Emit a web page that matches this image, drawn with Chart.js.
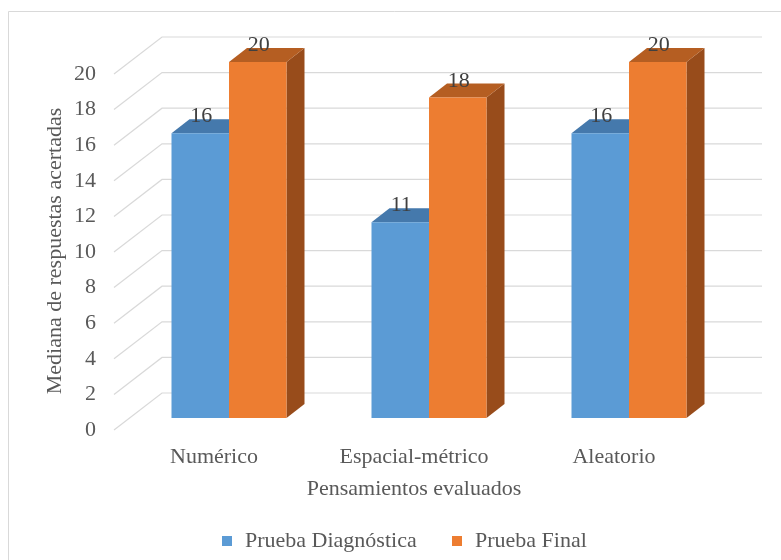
<!DOCTYPE html>
<html>
<head>
<meta charset="utf-8">
<script src="https://cdn.jsdelivr.net/npm/chart.js@4"></script>
<style>
  body { margin: 0; background: #fff; }
  canvas { display: block; }
</style>
</head>
<body>
<canvas id="chart" width="781" height="560"></canvas>
<script>
// Data
const categories = ['Numérico', 'Espacial-métrico', 'Aleatorio'];
const pruebaDiagnostica = [16, 11, 16];
const pruebaFinal = [20, 18, 20];
const yTicks = [0, 2, 4, 6, 8, 10, 12, 14, 16, 18, 20];
const seriesNames = ['Prueba Diagnóstica', 'Prueba Final'];

const FONT = '22px "Liberation Serif", "Times New Roman", serif';
const frontColors = ['#5B9BD5', '#ED7D31'];
const topColors = ['#4579AC', '#B55E22'];
const sideColors = ['#3A6791', '#984C1B'];

// 3D offsets relative to the bar front plane
const front = { dx: -15, dy: 12 };
const back = { dx: 33, dy: -25 };
const depth = { dx: 18, dy: -14 };

const threeD = {
    id: 'threeD',
    beforeDraw(chart) {
        const ctx = chart.ctx;
        ctx.save();
        ctx.fillStyle = '#fff';
        ctx.fillRect(0, 0, chart.width, chart.height);
        ctx.strokeStyle = '#D9D9D9';
        ctx.lineWidth = 1;
        ctx.beginPath();
        ctx.moveTo(8.5, 560);
        ctx.lineTo(8.5, 11.5);
        ctx.lineTo(781, 11.5);
        ctx.stroke();
        ctx.restore();
    },
    beforeDatasetsDraw(chart) {
        const ctx = chart.ctx;
        const area = chart.chartArea;
        const y = chart.scales.y;
        const x = chart.scales.x;
        ctx.save();

        // back wall gridlines and floor diagonals
        ctx.strokeStyle = '#D9D9D9';
        ctx.lineWidth = 1.2;
        yTicks.forEach(v => {
            const py = y.getPixelForValue(v);
            ctx.beginPath();
            ctx.moveTo(area.left + front.dx, py + front.dy);
            ctx.lineTo(area.left + back.dx, py + back.dy);
            ctx.lineTo(area.right + back.dx, py + back.dy);
            ctx.stroke();
        });

        // tick labels
        ctx.fillStyle = '#595959';
        ctx.font = FONT;
        ctx.textAlign = 'right';
        ctx.textBaseline = 'middle';
        yTicks.forEach(v => {
            ctx.fillText(String(v), 96, y.getPixelForValue(v) + front.dy);
        });

        // category labels
        ctx.textAlign = 'center';
        categories.forEach((c, i) => {
            ctx.fillText(c, x.getPixelForValue(i) + front.dx, 457);
        });

        // axis titles
        ctx.fillText('Pensamientos evaluados', (area.left + area.right) / 2 + front.dx, 489);
        ctx.save();
        ctx.translate(55, 251);
        ctx.rotate(-Math.PI / 2);
        ctx.fillText('Mediana de respuestas acertadas', 0, 0);
        ctx.restore();

        // legend
        const legendX = [222, 452];
        seriesNames.forEach((name, i) => {
            ctx.fillStyle = frontColors[i];
            ctx.fillRect(legendX[i], 536, 10, 10);
            ctx.fillStyle = '#595959';
            ctx.textAlign = 'left';
            ctx.fillText(name, legendX[i] + 23, 541);
        });

        // top and side faces (front faces drawn by Chart.js afterwards)
        chart.data.datasets.forEach((ds, di) => {
            chart.getDatasetMeta(di).data.forEach(bar => {
                const l = bar.x - bar.width / 2;
                const r = bar.x + bar.width / 2;
                const t = bar.y;
                const b = bar.base;
                ctx.fillStyle = sideColors[di];
                ctx.beginPath();
                ctx.moveTo(r, t);
                ctx.lineTo(r + depth.dx, t + depth.dy);
                ctx.lineTo(r + depth.dx, b + depth.dy);
                ctx.lineTo(r, b);
                ctx.closePath();
                ctx.fill();
                ctx.fillStyle = topColors[di];
                ctx.beginPath();
                ctx.moveTo(l, t);
                ctx.lineTo(r, t);
                ctx.lineTo(r + depth.dx, t + depth.dy);
                ctx.lineTo(l + depth.dx, t + depth.dy);
                ctx.closePath();
                ctx.fill();
            });
        });
        ctx.restore();
    },
    afterDatasetsDraw(chart) {
        const ctx = chart.ctx;
        ctx.save();
        ctx.fillStyle = '#404040';
        ctx.font = FONT;
        ctx.textAlign = 'center';
        ctx.textBaseline = 'alphabetic';
        chart.data.datasets.forEach((ds, di) => {
            chart.getDatasetMeta(di).data.forEach((bar, j) => {
                ctx.fillText(String(ds.data[j]), bar.x + 1, bar.y - 11);
            });
        });
        ctx.restore();
    }
};

new Chart(document.getElementById('chart'), {
    type: 'bar',
    data: {
        labels: categories,
        datasets: [
            {
                label: seriesNames[0],
                data: pruebaDiagnostica,
                backgroundColor: frontColors[0],
                categoryPercentage: 0.575,
                barPercentage: 1
            },
            {
                label: seriesNames[1],
                data: pruebaFinal,
                backgroundColor: frontColors[1],
                categoryPercentage: 0.575,
                barPercentage: 1
            }
        ]
    },
    options: {
        responsive: false,
        animation: false,
        layout: { padding: { left: 129, right: 52, top: 62, bottom: 142 } },
        scales: {
            x: { display: false },
            y: { display: false, min: 0, max: 20, ticks: { stepSize: 2 } }
        },
        plugins: {
            legend: { display: false },
            tooltip: { enabled: false }
        }
    },
    plugins: [threeD]
});
</script>
</body>
</html>
